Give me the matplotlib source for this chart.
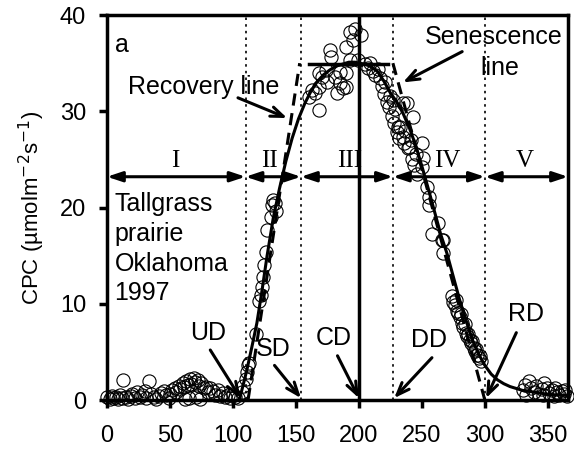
import matplotlib.pyplot as plt
import numpy as np

plt.rcParams['font.family'] = ['Liberation Sans', 'DejaVu Sans']

# observed canopy photosynthetic capacity (day of year, CPC)
doy = [0, 2, 4, 5, 7, 9, 10, 12, 13, 15, 17, 19, 20, 22, 24, 26, 28, 30, 31, 33,
       35, 37, 39, 41, 43, 45, 47, 49, 50, 52, 54, 55, 57, 58, 60, 61, 62, 63, 64, 65,
       66, 67, 69, 70, 71, 72, 73, 74, 75, 77, 79, 80, 82, 84, 86, 88, 90, 92, 94, 96,
       98, 100, 102, 104,
       107, 108, 110, 111, 112, 113, 118, 121, 122, 123, 124, 125, 126, 127, 130, 131,
       132, 133, 134,
       160, 163, 165, 168, 168, 168, 171, 174, 175, 177, 178, 181, 183, 185, 185, 187,
       190, 190, 190, 193, 193, 195, 197, 199, 202,
       205, 207, 209, 211, 213, 215, 217, 218, 220, 221, 222, 224, 225, 227, 226, 228,
       229, 231, 230, 232, 233, 235, 235, 236, 238, 237, 239, 240, 243, 241, 242, 244,
       245, 246, 250, 251, 250, 254, 256, 256, 258, 263, 266, 267, 267,
       274, 275, 276, 277, 278, 279, 280, 281, 282, 283, 284, 285, 286, 287, 288, 289,
       290, 291, 292, 293, 294, 295, 296, 297,
       330, 332, 333, 335, 337, 339, 341, 343, 345, 346, 347, 349, 351, 353, 355, 356,
       357, 359, 361, 363, 364, 365]
cpc = [0.3, 0.1, 0.4, 0.2, 0.3, 0.1, 0.5, 0.2, 2.1, 0.3, 0.1, 0.4, 0.6, 0.2, 0.8, 0.3, 0.5, 0.9, 0.2, 2.0,
       0.6, 0.3, 0.1, 0.4, 0.7, 0.9, 0.5, 0.2, 0.6, 1.0, 1.3, 0.8, 1.5, 1.1, 1.8, 1.4, 0.1, 2.0, 1.6, 0.2,
       2.2, 1.7, 2.3, 1.9, 0.3, 2.1, 1.5, 0.1, 1.8, 1.2, 1.4, 0.8, 1.3, 0.9, 0.5, 1.0, 0.4, 0.7, 0.3, 0.5,
       0.2, 0.6, 0.3, 0.2,
       0.8, 1.5, 2.2, 2.9, 3.6, 3.9, 6.9, 10.3, 10.9, 11.7, 12.8, 14.0, 15.4, 17.7, 19.0, 20.3,
       20.8, 20.5, 19.6,
       31.5, 32.2, 31.9, 30.1, 32.5, 34.0, 33.6, 34.3, 33.0, 36.4, 35.6, 33.6, 31.9, 32.9, 34.1, 32.4,
       34.0, 32.5, 36.7, 38.2, 35.3, 37.4, 38.6, 35.3, 37.9,
       34.9, 34.5, 35.0, 34.2, 33.8, 34.4, 33.5, 32.6, 31.8, 33.0, 31.0, 30.4, 31.6, 31.2, 29.5, 28.8,
       30.2, 28.4, 27.8, 27.2, 28.4, 30.9, 27.3, 26.7, 30.9, 28.0, 26.2, 26.3, 29.4, 27.0, 25.0, 24.4,
       25.6, 23.5, 26.7, 25.1, 24.2, 22.1, 21.1, 20.3, 17.3, 18.4, 16.6, 16.6, 15.3,
       10.8, 10.2, 9.9, 10.4, 9.3, 9.0, 8.6, 8.9, 8.0, 7.6, 7.9, 7.0, 6.7, 6.9, 6.2, 5.9,
       6.1, 5.4, 5.1, 5.3, 4.7, 4.4, 4.6, 4.1,
       1.0, 1.6, 0.5, 2.0, 1.3, 0.8, 1.5, 0.6, 1.1, 0.5, 1.8, 1.3, 0.7, 1.0, 0.4, 1.2,
       0.8, 0.5, 0.9, 0.6, 1.0, 0.4]

# fitted seasonal curve
fit_doy = [105, 108, 111, 115, 119, 123, 127, 132, 137, 142, 147, 152, 157, 162, 167, 172,
           177, 182, 187, 192, 197, 200, 205, 210, 215, 220, 225, 230, 235, 240, 245, 250,
           255, 260, 265, 270, 275, 280, 285, 290, 295, 300, 305, 310, 315, 320, 325, 330,
           340, 350, 360, 365]
fit_cpc = [0.0, 1.5, 3.1, 5.5, 8.0, 11.3, 14.9, 18.9, 22.0, 24.8, 27.2, 29.2, 30.8, 32.1, 33.1, 33.8,
           34.3, 34.7, 34.9, 35.1, 35.1, 35.0, 34.9, 34.6, 34.1, 33.1, 31.9, 31.0, 29.8, 28.3, 26.5, 24.3,
           22.0, 19.6, 17.2, 15.2, 12.8, 10.4, 8.3, 6.3, 4.8, 3.6, 2.7, 2.1, 1.7, 1.4, 1.2, 1.0,
           0.8, 0.6, 0.5, 0.5]

# recovery / senescence lines and plateau
recovery_doy = [112, 153]
recovery_cpc = [0.0, 35.0]
senescence_doy = [227, 300]
senescence_cpc = [35.0, 0.0]
plateau_doy = [160, 223]
plateau_cpc = [34.9, 34.9]

# phenological transition dates
UD, SD, CD, DD, RD = 110, 154, 200, 227, 300
phase_edges = [0, UD, SD, DD, RD, 366]
phase_names = ['I', 'II', 'III', 'IV', 'V']
phase_label_x = [54, 129, 193, 270, 332]
arrow_y = 23.2

fig = plt.figure(figsize=(5.74, 4.5), dpi=100)
ax = fig.add_axes([0.1864, 0.111, 0.8031, 0.8556])

for d in [UD, SD, DD, RD]:
    ax.axvline(d, color='black', lw=1.2, ls=(0, (1.5, 2.5)), zorder=1)
ax.axvline(CD, color='black', lw=2.5, zorder=3)

ax.plot(doy, cpc, 'o', mfc='none', mec='black', mew=0.8, ms=9.5, clip_on=False, zorder=2)
ax.plot(fit_doy, fit_cpc, color='black', lw=2.2, zorder=4)
ax.plot(recovery_doy, recovery_cpc, color='black', lw=2.2, ls=(0, (4, 2.5)), zorder=4)
ax.plot(senescence_doy, senescence_cpc, color='black', lw=2.2, ls=(0, (4, 2.5)), zorder=4)
ax.plot(plateau_doy, plateau_cpc, color='black', lw=2.5, zorder=4)

# phase arrows
for a, b, name, lx in zip(phase_edges[:-1], phase_edges[1:], phase_names, phase_label_x):
    ax.annotate('', xy=(a, arrow_y), xytext=(b, arrow_y),
                arrowprops=dict(arrowstyle='<|-|>, head_length=0.9, head_width=0.3',
                                color='black', lw=2.2, shrinkA=0, shrinkB=0), zorder=5)
    ax.text(lx, arrow_y + 0.5, name, family=['Liberation Serif', 'DejaVu Serif'],
            fontsize=18, ha='center', va='bottom', zorder=6)

arrow_kw = dict(arrowstyle='->, head_length=0.9, head_width=0.35', color='black', lw=2.2,
                shrinkA=0, shrinkB=0)
date_labels = [('UD', UD - 4, (82, 5.2), (80, 7.0)),
               ('SD', SD, (133, 3.6), (132, 5.3)),
               ('CD', CD, (183, 4.6), (180, 6.4)),
               ('DD', DD + 1, (258, 4.4), (256, 6.2)),
               ('RD', RD + 1, (325, 7.0), (333, 8.9))]
for name, d, start, pos in date_labels:
    ax.annotate('', xy=(d, 0.2), xytext=start, arrowprops=arrow_kw, zorder=6)
    ax.text(pos[0], pos[1], name, fontsize=18, ha='center', va='center', zorder=6)

ax.annotate('', xy=(143, 29.3), xytext=(104, 31.4), arrowprops=arrow_kw, zorder=6)
ax.text(77, 32.5, 'Recovery line', fontsize=18, ha='center', va='center', zorder=6)
ax.annotate('', xy=(235, 33.0), xytext=(282, 36.2), arrowprops=arrow_kw, zorder=6)
ax.text(307, 37.7, 'Senescence', fontsize=18, ha='center', va='center', zorder=6)
ax.text(312, 34.5, 'line', fontsize=18, ha='center', va='center', zorder=6)

ax.text(12, 36.9, 'a', fontsize=18, ha='center', va='center')
ax.text(6, 21.6, 'Tallgrass\nprairie\nOklahoma\n1997', fontsize=18, ha='left', va='top',
        linespacing=1.3)

ax.set_xlim(0, 366)
ax.set_ylim(0, 40)
ax.set_xticks(range(0, 351, 50))
ax.set_yticks(range(0, 41, 10))
ax.tick_params(direction='out', length=6, width=2.5, labelsize=17)
ax.tick_params(axis='x', pad=12)
ax.tick_params(axis='y', pad=9)
for s in ax.spines.values():
    s.set_linewidth(2.5)
ax.set_ylabel('CPC (µmolm$^{-2}$s$^{-1}$)', fontsize=16, labelpad=9)

fig.savefig('out.png', dpi=100)
